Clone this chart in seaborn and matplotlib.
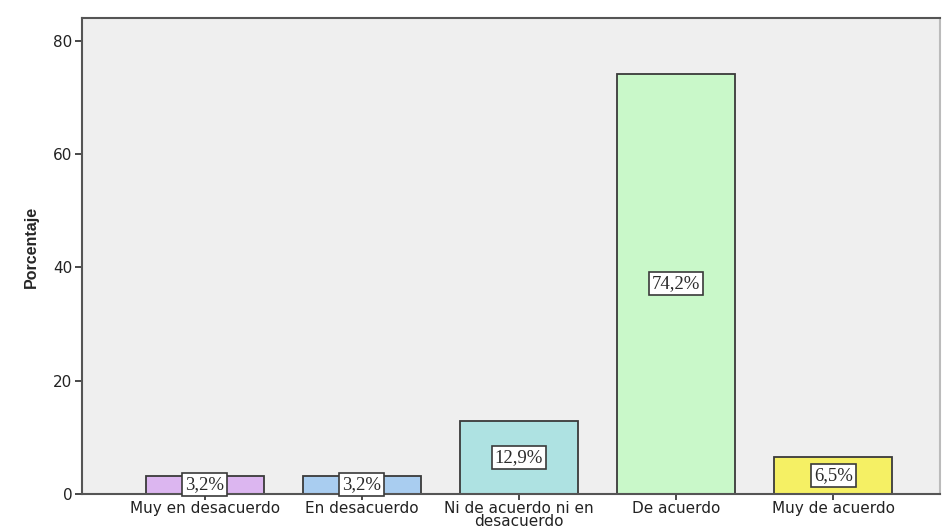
import matplotlib
matplotlib.use("Agg")
import matplotlib.pyplot as plt
import seaborn as sns
import pandas as pd

categorias = ["Muy en desacuerdo", "En desacuerdo", "Ni de acuerdo ni en\ndesacuerdo",
              "De acuerdo", "Muy de acuerdo"]
porcentajes = [3.2, 3.2, 12.9, 74.2, 6.5]
colores = ["#DCB6F0", "#A9CDF0", "#AEE2E2", "#C9F8C9", "#F5F064"]
ticks_y = [0, 20, 40, 60, 80]

df = pd.DataFrame({"categoria": categorias, "porcentaje": porcentajes})

sns.set_style("ticks")
fig = plt.figure(figsize=(9.44, 5.32), dpi=100)
ax = fig.add_axes([0.0869, 0.0714, 0.9091, 0.8948])
ax.set_facecolor("#EFEFEF")

sns.barplot(data=df, x="categoria", y="porcentaje", hue="categoria",
            palette=colores, legend=False, width=0.75, saturation=1,
            edgecolor="#3A3A3A", linewidth=1.3, ax=ax)

for i, v in enumerate(porcentajes):
    ax.text(i, v / 2, f"{v:.1f}%".replace(".", ","), ha="center", va="center",
            fontsize=13.5, family="Liberation Serif", color="#2A2A2A",
            bbox=dict(boxstyle="square,pad=0.16", facecolor="white",
                      edgecolor="#3A3A3A", linewidth=1.2))

ax.set_ylim(0, 84)
ax.set_xlim(-0.78, 4.68)
ax.set_yticks(ticks_y)
ax.set_xlabel("")
ax.set_ylabel("Porcentaje", fontsize=11.5, fontweight="bold",
              family="Liberation Sans")
ax.yaxis.set_label_coords(-0.05, 0.52)
ax.tick_params(axis="both", direction="out", length=5, width=1.3,
               color="#3A3A3A", labelsize=11, labelcolor="#222222", pad=2,
               bottom=True, left=True)
ax.tick_params(axis="x", length=4, labelsize=11, pad=1)
for lbl in ax.get_xticklabels():
    lbl.set_linespacing(0.8)
for s in ax.spines.values():
    s.set_color("#555555")
    s.set_linewidth(1.5)
ax.spines["right"].set_color("#BBBBBB")

fig.savefig("out.png", dpi=100)
